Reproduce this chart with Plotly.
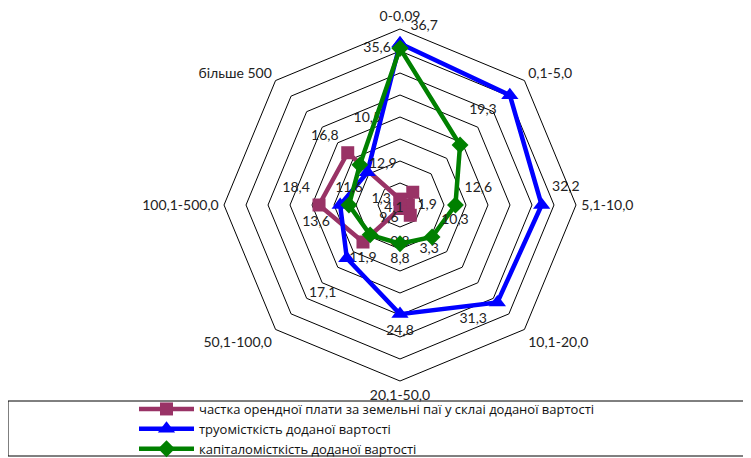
import plotly.graph_objects as go

categories = ["0-0,09", "0,1-5,0", "5,1-10,0", "10,1-20,0", "20,1-50,0",
              "50,1-100,0", "100,1-500,0", "більше 500"]

rent_share = [1.3, 4.1, 1.9, 3.3, 0.8, 11.9, 18.4, 16.8]
labour_intensity = [36.7, 35.3, 32.2, 31.3, 24.8, 17.1, 13.6, 10.5]
capital_intensity = [35.6, 19.3, 12.6, 10.3, 8.8, 9.6, 11.6, 12.9]

series_names = [
    "частка орендної плати за земельні паї у склаі доданої вартості",
    "труомісткість доданої вартості",
    "капіталомісткість доданої вартості",
]

# which data labels are visible (the reference omits one label)
labour_label_shown = [True, False, True, True, True, True, True, True]

def fmt(v):
    return f"{v:.1f}".replace(".", ",")

def closed(seq, fill):
    return list(seq) + [fill]

FONT = "Lato, 'Open Sans', sans-serif"

styles = [
    dict(color="#993366", symbol="square", size=13,
         pos=["middle left", "bottom left", "middle right", "bottom right",
              "bottom center", "bottom center", "top left", "top left"],
         push=[0, 0, 0, 1, 1, 0, 0, 0]),
    dict(color="#0000FF", symbol="triangle-up", size=15,
         pos=["top right", "top right", "top right", "bottom left",
              "bottom center", "bottom left", "bottom left", "top center"],
         push=[0, 0, 0, 0, 0, 1, 0, 2]),
    dict(color="#008000", symbol="diamond", size=13,
         pos=["middle left", "top right", "top right", "top right",
              "bottom center", "top right", "top center", "middle right"],
         push=[0, 1, 0, 0, 0, 0, 0, 0]),
]

data_sets = [rent_share, labour_intensity, capital_intensity]
masks = [[True] * 8, labour_label_shown, [True] * 8]

def place(txt, pos, n):
    if not txt or n == 0:
        return txt
    if pos.startswith("top"):
        return txt + "<br>" * n
    if pos.startswith("bottom"):
        return "<br>" * n + txt
    return txt

fig = go.Figure()
for name, vals, st, mask in zip(series_names, data_sets, styles, masks):
    texts = [place(fmt(v) if m else "", p, n)
             for v, m, p, n in zip(vals, mask, st["pos"], st["push"])]
    fig.add_trace(go.Scatterpolar(
        r=closed(vals, vals[0]),
        theta=closed(categories, categories[0]),
        mode="lines+markers+text",
        name=name,
        line=dict(color=st["color"], width=4.5),
        marker=dict(color=st["color"], symbol=st["symbol"], size=st["size"]),
        text=closed(texts, ""),
        textposition=closed(st["pos"], "middle center"),
        textfont=dict(family=FONT, size=14, color="#222222"),
        cliponaxis=False,
        hoverinfo="skip",
    ))

# The page body adds an 8px offset, so the layout is set in page pixels
# minus that offset; the figure is made taller than the window so that the
# legend never forces an extra margin.
OFF = 8
W, H = 751, 480
cx, cy, R = 400 - OFF, 205 - OFF, 176

def py(y):  # page pixel (from top, after offset) -> paper fraction
    return (H - y) / H

fig.update_layout(
    width=W, height=H,
    margin=dict(l=0, r=0, t=0, b=0),
    paper_bgcolor="white",
    plot_bgcolor="white",
    font=dict(family=FONT, size=14, color="#222222"),
    polar=dict(
        domain=dict(x=[(cx - R) / W, (cx + R) / W],
                    y=[py(cy + R), py(cy - R)]),
        gridshape="linear",
        bgcolor="white",
        radialaxis=dict(range=[0, 40], dtick=5, showticklabels=False,
                        ticks="", showline=False, gridcolor="black",
                        gridwidth=1),
        angularaxis=dict(direction="clockwise", rotation=90, showgrid=False,
                         linecolor="black", linewidth=1,
                         ticks="outside", ticklen=2,
                         tickcolor="rgba(0,0,0,0)",
                         tickfont=dict(family=FONT, size=14, color="#222222")),
    ),
    showlegend=True,
    legend=dict(
        x=126 / W, xanchor="left", y=py(386), yanchor="top",
        bgcolor="rgba(0,0,0,0)",
        font=dict(family="'Open Sans', sans-serif", size=13, color="#111111"),
        itemwidth=55,
        tracegroupgap=0,
    ),
    shapes=[dict(type="rect", xref="paper", yref="paper",
                 x0=0, x1=(748 - OFF) / W, y0=py(456 - OFF), y1=py(401 - OFF),
                 line=dict(color="black", width=1), fillcolor="white",
                 layer="below")],
)

fig.write_html("out.html")
